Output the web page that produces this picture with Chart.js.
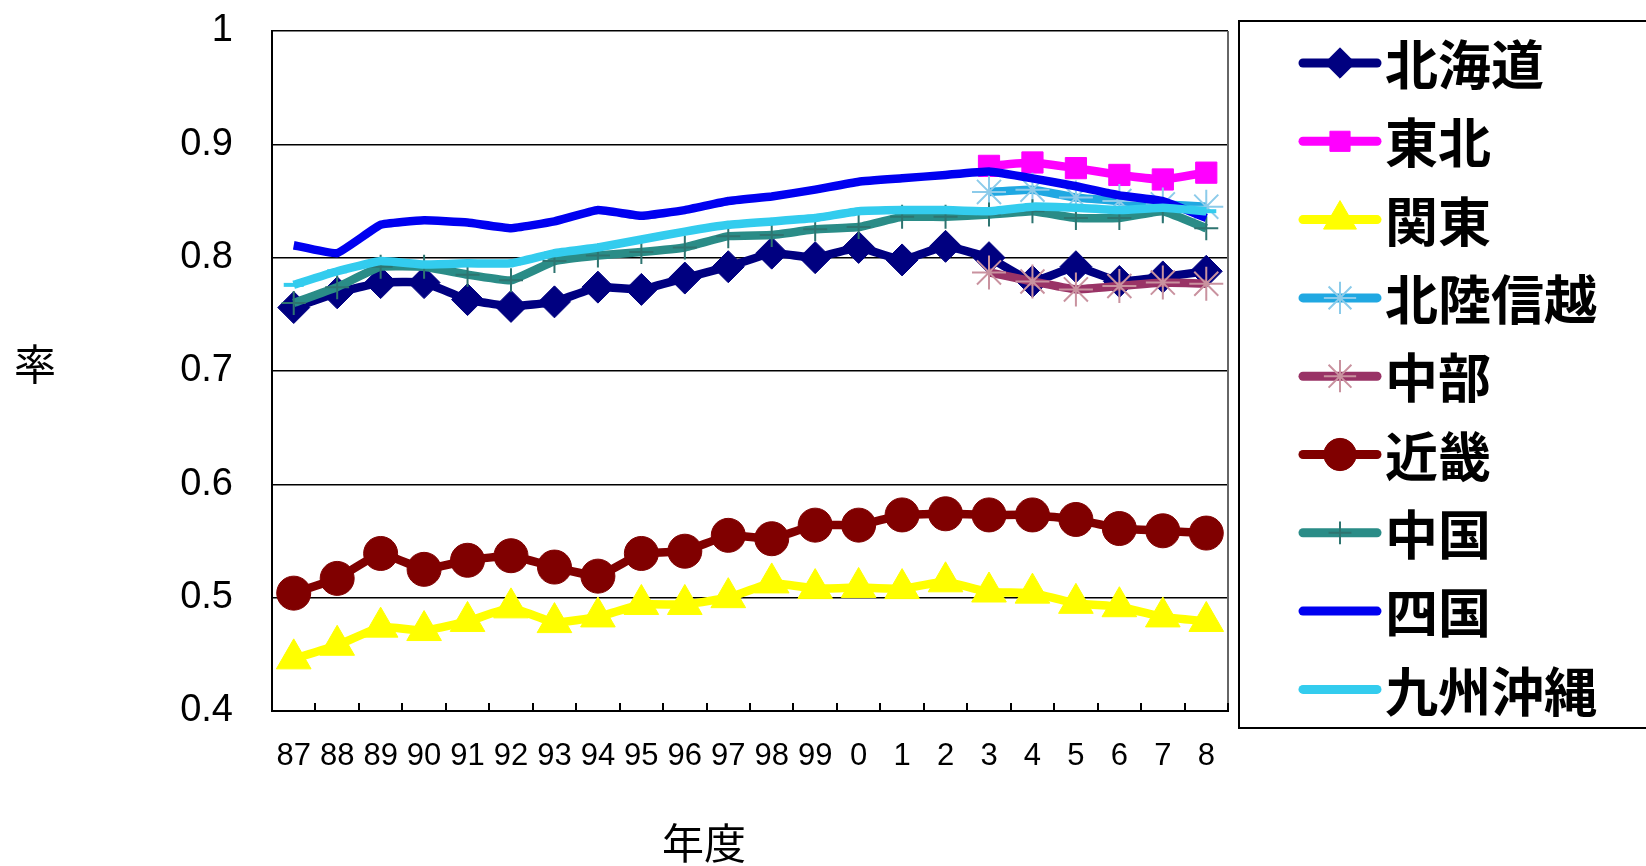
<!DOCTYPE html>
<html lang="ja">
<head>
<meta charset="utf-8">
<title>率 - 年度</title>
<script src="https://cdn.jsdelivr.net/npm/chart.js@4.4.1/dist/chart.umd.min.js"></script>
<style>
    body { margin: 0; background: #fff; }
    #wrap { width: 1646px; height: 866px; }
</style>
</head>
<body>
<div id="wrap"><canvas id="graficoRegioes" width="1646" height="866"></canvas></div>
<script>
// -------- Dados ---------------------------------------------------------------------------
const anos = ["87", "88", "89", "90", "91", "92", "93", "94", "95", "96", "97", "98", "99",
              "0", "1", "2", "3", "4", "5", "6", "7", "8"];

const regioes = ["北海道", "東北", "関東", "北陸信越", "中部", "近畿", "中国", "四国", "九州沖縄"];

const hokkaido = [0.756, 0.769, 0.778, 0.778, 0.763, 0.757, 0.761, 0.774, 0.772, 0.782, 0.792,
                  0.804, 0.800, 0.809, 0.798, 0.810, 0.800, 0.779, 0.792, 0.779, 0.783, 0.788];
const tohoku = [null, null, null, null, null, null, null, null, null, null, null,
                null, null, null, null, null, 0.881, 0.884, 0.879, 0.873, 0.869, 0.875];
const kanto = [0.446, 0.458, 0.474, 0.471, 0.479, 0.491, 0.478, 0.483, 0.494, 0.494, 0.500,
               0.513, 0.508, 0.509, 0.508, 0.514, 0.505, 0.504, 0.495, 0.492, 0.483, 0.479];
const hokurikuShinetsu = [null, null, null, null, null, null, null, null, null, null, null,
                          null, null, null, null, null, 0.858, 0.860, 0.853, 0.850, 0.847, 0.845];
const chubu = [null, null, null, null, null, null, null, null, null, null, null,
               null, null, null, null, null, 0.787, 0.779, 0.772, 0.775, 0.778, 0.777];
const kinki = [0.504, 0.517, 0.539, 0.525, 0.533, 0.537, 0.527, 0.519, 0.539, 0.541, 0.555,
               0.552, 0.564, 0.564, 0.573, 0.574, 0.573, 0.573, 0.569, 0.561, 0.559, 0.557];
const chugoku = [0.760, 0.774, 0.792, 0.792, 0.785, 0.780, 0.797, 0.802, 0.805, 0.809, 0.819,
                 0.820, 0.825, 0.827, 0.836, 0.836, 0.838, 0.841, 0.835, 0.835, 0.841, 0.826];
const shikoku = [0.811, 0.804, 0.829, 0.833, 0.831, 0.826, 0.832, 0.842, 0.837, 0.842, 0.850,
                 0.854, 0.860, 0.867, 0.870, 0.873, 0.876, 0.870, 0.863, 0.855, 0.850, 0.835];
const kyushuOkinawa = [0.776, 0.788, 0.797, 0.794, 0.795, 0.795, 0.804, 0.809, 0.816, 0.823, 0.829,
                       0.832, 0.835, 0.841, 0.842, 0.842, 0.841, 0.845, 0.844, 0.842, 0.844, 0.841];

const yTicks = [0.4, 0.5, 0.6, 0.7, 0.8, 0.9, 1];

// -------- Estilo de cada série (cor, marcador) --------------------------------------------
function serie(i, data, cor, estilo, raio, corMarcador, bordaMarcador) {
    return {
        label: regioes[i],
        data: data,
        borderColor: cor,
        backgroundColor: cor,
        borderWidth: 8.5,
        pointStyle: estilo,
        pointRadius: raio,
        pointBackgroundColor: corMarcador || cor,
        pointBorderColor: corMarcador || cor,
        pointBorderWidth: bordaMarcador || 1,
        tension: 0.1,
        spanGaps: false,
        order: -i
    };
}

const datasets = [
    serie(0, hokkaido, "#000080", "rectRot", 16),
    serie(1, tohoku, "#FF00FF", "rect", 15),
    serie(2, kanto, "#FFFF00", "triangle", 20),
    serie(3, hokurikuShinetsu, "#20A8E2", "star", 17, "#8CCBEA", 2),
    serie(4, chubu, "#993366", "star", 17, "#C9929F", 2),
    serie(5, kinki, "#800000", "circle", 17),
    serie(6, chugoku, "#2A8C87", "cross", 12, "#2E7470", 2),
    serie(7, shikoku, "#0000F0", false, 0),
    serie(8, kyushuOkinawa, "#33CCEE", "line", 10, "#33CCEE", 4)
];

// -------- Legenda, títulos e moldura --------------------------------------------------------
const extras = {
    id: "extras",
    afterDraw(chart) {
        const ctx = chart.ctx;
        const area = chart.chartArea;
        const x = chart.scales.x;

        ctx.save();
        // moldura à direita
        ctx.strokeStyle = "#666";
        ctx.lineWidth = 2;
        ctx.beginPath();
        ctx.moveTo(area.right, area.top);
        ctx.lineTo(area.right, area.bottom);
        ctx.stroke();

        // marcas do eixo x (para dentro)
        ctx.strokeStyle = "#000";
        ctx.lineWidth = 2;
        for (let i = 0; i < anos.length; i++) {
            const px = Math.round(x.getPixelForValue(i + 0.5));
            ctx.beginPath();
            ctx.moveTo(px, area.bottom);
            ctx.lineTo(px, area.bottom - 8);
            ctx.stroke();
        }

        // títulos dos eixos
        ctx.fillStyle = "#000";
        ctx.font = '42px "Noto Sans CJK JP"';
        ctx.textAlign = "center";
        ctx.textBaseline = "middle";
        ctx.fillText("率", 35, 364);
        ctx.fillText("年度", 704, 843);

        // legenda
        ctx.strokeStyle = "#000";
        ctx.lineWidth = 2;
        ctx.strokeRect(1239, 21, 440, 707);

        ctx.font = 'bold 53px "Noto Sans CJK JP"';
        ctx.textAlign = "left";
        chart.data.datasets.forEach((ds, i) => {
            const y = 63 + 78.3 * i;
            ctx.strokeStyle = ds.borderColor;
            ctx.lineWidth = 9;
            ctx.lineCap = "round";
            ctx.beginPath();
            ctx.moveTo(1303, y);
            ctx.lineTo(1377, y);
            ctx.stroke();
            if (ds.pointStyle && Chart.helpers && Chart.helpers.drawPoint) {
                ctx.fillStyle = ds.pointBackgroundColor;
                ctx.strokeStyle = ds.pointBorderColor;
                ctx.lineWidth = ds.pointBorderWidth;
                ctx.lineCap = "butt";
                Chart.helpers.drawPoint(ctx, {
                    pointStyle: ds.pointStyle,
                    radius: ds.pointRadius * 0.95,
                    rotation: 0,
                    borderWidth: ds.pointBorderWidth
                }, 1340, y);
            }
            ctx.fillStyle = "#000";
            ctx.fillText(ds.label, 1385, y + 2);
        });
        ctx.restore();
    }
};

// -------- Gráfico ---------------------------------------------------------------------------
const ctxRegioes = document.getElementById("graficoRegioes").getContext("2d");
new Chart(ctxRegioes, {
    type: "line",
    data: {
        labels: anos,
        datasets: datasets
    },
    options: {
        responsive: false,
        animation: false,
        devicePixelRatio: 1,
        layout: {
            padding: { left: 0, top: 31, right: 418, bottom: 0 }
        },
        plugins: {
            legend: { display: false },
            tooltip: { enabled: false },
            title: { display: false }
        },
        scales: {
            x: {
                offset: true,
                grid: { display: false, drawTicks: false },
                border: { display: true, color: "#000", width: 2 },
                ticks: {
                    autoSkip: false,
                    maxRotation: 0,
                    padding: 27,
                    color: "#000",
                    font: { family: '"Liberation Sans", Arial, sans-serif', size: 31 }
                },
                afterFit: (scale) => { scale.height = 155; }
            },
            y: {
                min: 0.4,
                max: 1,
                afterBuildTicks: (scale) => { scale.ticks = yTicks.map(v => ({ value: v })); },
                grid: { color: "#000", lineWidth: 1.5, drawTicks: true, tickLength: 39, tickColor: "rgba(0,0,0,0)" },
                border: { display: true, color: "#000", width: 2 },
                ticks: {
                    padding: 0,
                    color: "#000",
                    font: { family: '"Liberation Sans", Arial, sans-serif', size: 38 },
                    callback: (v) => String(Number(Number(v).toFixed(1)))
                },
                afterFit: (scale) => { scale.width = 272; }
            }
        }
    },
    plugins: [extras]
});
</script>
</body>
</html>
